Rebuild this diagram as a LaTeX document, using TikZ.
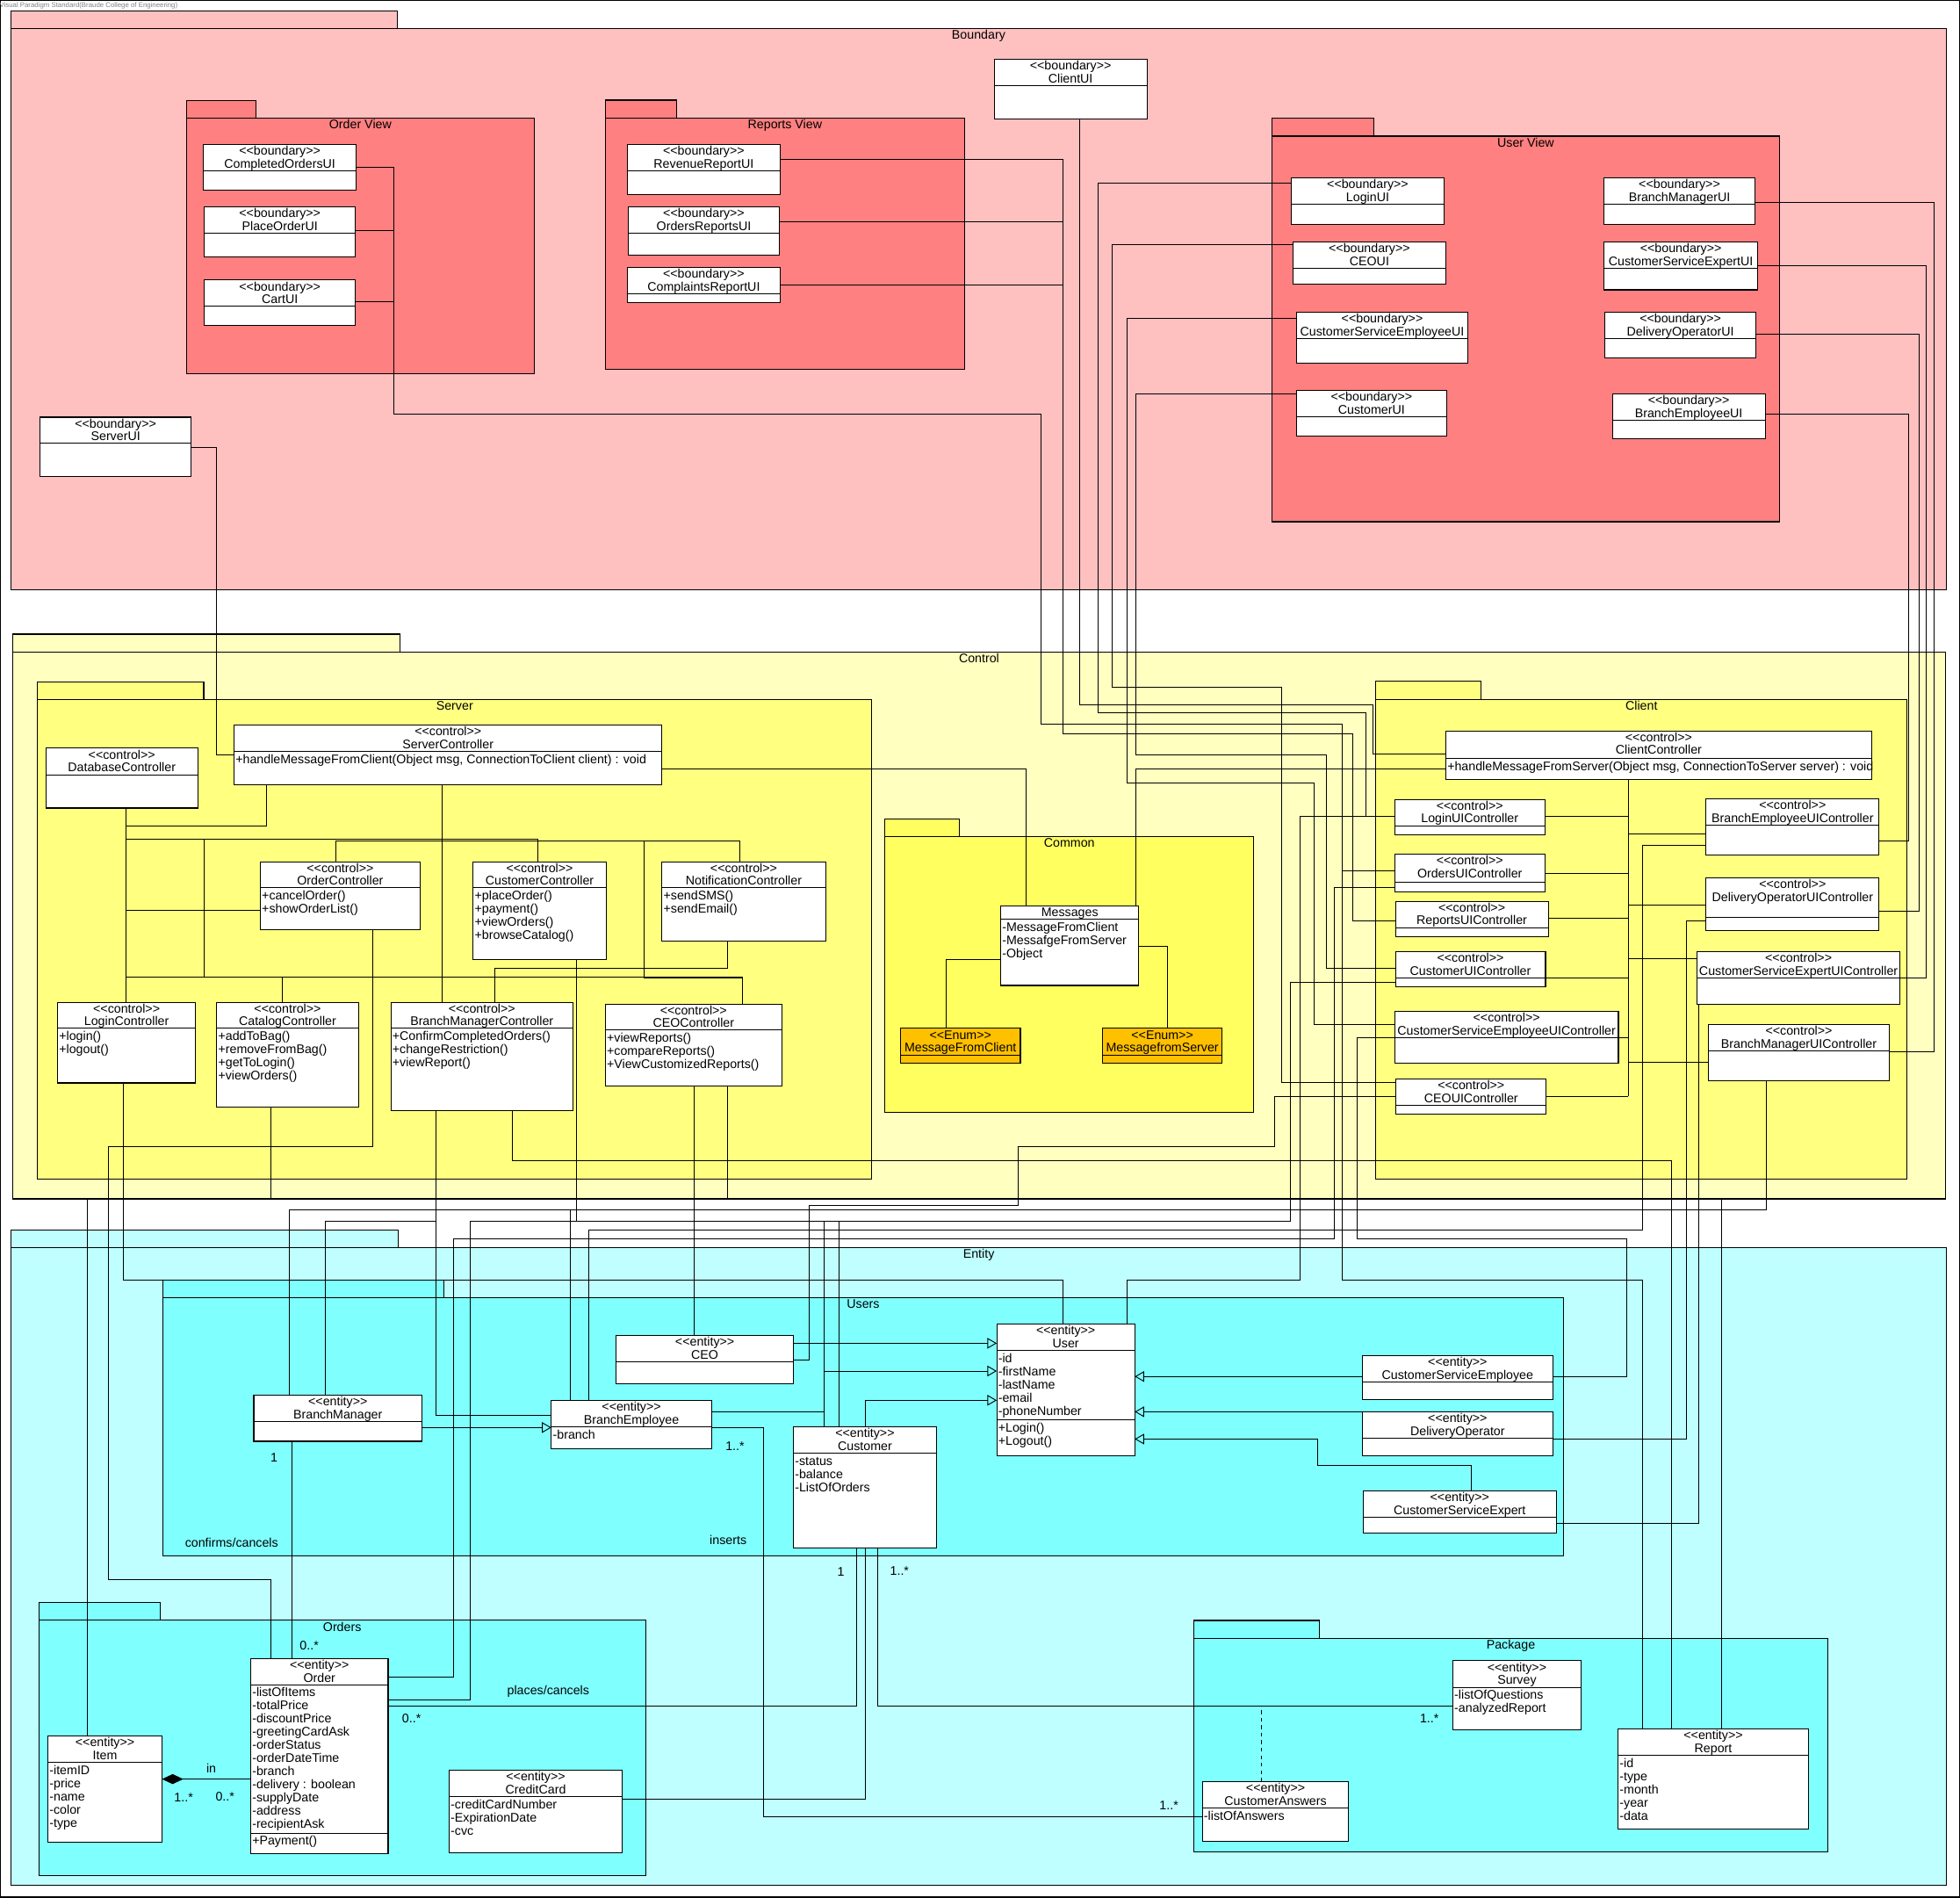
\documentclass[tikz,border=0pt]{standalone}
\usepackage{fontspec}
\setmainfont{Liberation Sans}
\usetikzlibrary{calc,arrows.meta}
\definecolor{bndOuter}{HTML}{FFC0C0}
\definecolor{bndInner}{HTML}{FF8080}
\definecolor{ctlOuter}{HTML}{FFFFC0}
\definecolor{ctlInner}{HTML}{FFFF80}
\definecolor{ctlCommon}{HTML}{FFFF60}
\definecolor{entOuter}{HTML}{C0FFFF}
\definecolor{entInner}{HTML}{80FFFF}
\definecolor{enumFill}{HTML}{FFC000}
\pgfdeclarelayer{back}
\pgfdeclarelayer{wires}
\pgfsetlayers{back,wires,main}
% guillemet-free stereotype brackets
\newcommand\umlst[1]{<\kern0pt<#1>\kern0pt>}
% package: title node, x1, tab top, tab right, body top, x2, bottom, fill, title
\newcommand\umlpkg[9]{%
  \fill[#8] (#2,#3) rectangle (#4,#5);
  \draw[pkgline] (#2,#3) rectangle (#4,#5);
  \fill[#8] (#2,#5) rectangle (#6,#7);
  \draw[pkgline] (#2,#5) rectangle (#6,#7);
  \node[lbl,anchor=base] (#1) at ({(#2+#6)/2},#5+8.7) {#9};}
% class box: [fill], name, x1, y1, x2, y2, divider y
\newcommand\umlcls[7][white]{%
  \node[clsbox,fill=#1,minimum width={#5-#3},minimum height={#6-#4}] (#2) at (#3,#4) {};
  \draw[boxline] (#3,#7) -- (#5,#7);}
% two-line header: stereotype and name
\newcommand\umlhd[3]{%
  \node[lbl,anchor=base] (#1-s) at ($(#1.north)+(0,8.6)$) {\umlst{#2}};
  \node[lbl,anchor=base] (#1-n) at ($(#1.north)+(0,18.8)$) {#3};}
% one-line header
\newcommand\umlone[2]{%
  \node[lbl,anchor=base] (#1-n) at ($(#1.north)+(0,8.6)$) {#2};}
% compartment rows: prefix, left x, first baseline, list
\newcommand\umlrows[4]{%
  \foreach \t [count=\i from 0] in {#4}
    \node[lbl,anchor=base west] (#1-\i) at ({#2+1},{#3+\i*10.55}) {\t};}
\begin{document}
\begin{tikzpicture}[x=1pt,y=-1pt,
  lbl/.style={font=\fontsize{10}{11}\selectfont,inner sep=0pt,text=black},
  pkgline/.style={draw=black,line width=0.75pt},
  clsbox/.style={draw=black,line width=0.75pt,inner sep=0pt,outer sep=0pt,anchor=north west},
  boxline/.style={draw=black,line width=0.75pt},
  wire/.style={draw=black,line width=0.65pt},
  gen/.style={wire,-{Triangle[open,length=7.5pt,width=8.5pt]}},
  comp/.style={wire,{Diamond[length=17pt,width=8pt]}-},
  assoc/.style={wire,dashed}]
\useasboundingbox (0,0) rectangle (1568,1518);

\begin{pgfonlayer}{back}
\fill[white] (0,0) rectangle (1568,1518);
\draw[line width=1pt] (0.5,0.5) rectangle (1567.5,1517.5);
\node[font=\fontsize{5.5}{6}\selectfont,text=gray,anchor=west,inner sep=0pt] (vpmark) at (-0.5,4.6) {Visual Paradigm Standard(Braude College of Engineering)};
\umlpkg{tBoundary}{9}{8.6}{318}{22.9}{1556.8}{471.4}{bndOuter}{Boundary}
\umlpkg{tOrderView}{149}{80.2}{204.6}{94.5}{427.6}{298.8}{bndInner}{Order View}
\umlpkg{tReportsView}{484.2}{80.1}{541.3}{94.4}{771.7}{295.1}{bndInner}{Reports View}
\umlpkg{tUserView}{1017.8}{94.8}{1099}{108.9}{1423.3}{417.3}{bndInner}{User View}
\umlpkg{tControl}{10}{507.2}{319.9}{521.6}{1556.5}{958.9}{ctlOuter}{Control}
\umlpkg{tServer}{30}{545.4}{163}{559.4}{697.5}{943}{ctlInner}{Server}
\umlpkg{tCommon}{708}{654.9}{767.5}{669.2}{1003}{889.4}{ctlCommon}{Common}
\umlpkg{tClient}{1100.6}{545.1}{1184.8}{559.4}{1525.8}{943}{ctlInner}{Client}
\umlpkg{tEntity}{9}{983.7}{318.5}{997.6}{1557}{1507.6}{entOuter}{Entity}
\umlpkg{tUsers}{130.6}{1023.8}{354.9}{1037.9}{1250.5}{1244.4}{entInner}{Users}
\umlpkg{tOrders}{31}{1282}{128}{1296}{516.5}{1499.9}{entInner}{Orders}
\umlpkg{tPackage}{954.8}{1296.1}{1055.7}{1310.2}{1462.5}{1481}{entInner}{Package}
\end{pgfonlayer}

% ---------- Boundary classes ----------
\umlcls{CompletedOrdersUI}{162.7}{115.7}{285}{152}{136.7}
\umlhd{CompletedOrdersUI}{boundary}{CompletedOrdersUI}
\umlcls{PlaceOrderUI}{163.4}{165.5}{284.4}{205.6}{186.5}
\umlhd{PlaceOrderUI}{boundary}{PlaceOrderUI}
\umlcls{CartUI}{163.4}{224}{284.4}{260.6}{245}
\umlhd{CartUI}{boundary}{CartUI}
\umlcls{ServerUI}{32}{333.7}{153}{381.4}{354.7}
\umlhd{ServerUI}{boundary}{ServerUI}
\umlcls{RevenueReportUI}{502}{115.5}{624}{155.5}{136.5}
\umlhd{RevenueReportUI}{boundary}{RevenueReportUI}
\umlcls{OrdersReportsUI}{502.7}{165.3}{623.4}{204}{186.4}
\umlhd{OrdersReportsUI}{boundary}{OrdersReportsUI}
\umlcls{ComplaintsReportUI}{502}{213.8}{624}{241.7}{234.9}
\umlhd{ComplaintsReportUI}{boundary}{ComplaintsReportUI}
\umlcls{ClientUI}{795.3}{47.3}{917.6}{95.1}{68.4}
\umlhd{ClientUI}{boundary}{ClientUI}
\umlcls{LoginUI}{1033}{142.1}{1155.3}{179.8}{163.2}
\umlhd{LoginUI}{boundary}{LoginUI}
\umlcls{CEOUI}{1034.6}{193.4}{1156.4}{227.2}{214.5}
\umlhd{CEOUI}{boundary}{CEOUI}
\umlcls{CSEmpUI}{1037.2}{249.6}{1174.3}{290.4}{270.7}
\umlhd{CSEmpUI}{boundary}{CustomerServiceEmployeeUI}
\umlcls{CustomerUI}{1037.2}{312.2}{1157.2}{348.5}{333.2}
\umlhd{CustomerUI}{boundary}{CustomerUI}
\umlcls{BranchManagerUI}{1283.2}{142.1}{1403.9}{179.8}{163.2}
\umlhd{BranchManagerUI}{boundary}{BranchManagerUI}
\umlcls{CSExpUI}{1283.2}{193.4}{1406.2}{231.8}{214.5}
\umlhd{CSExpUI}{boundary}{CustomerServiceExpertUI}
\umlcls{DeliveryOperatorUI}{1283.9}{249.6}{1404.7}{286.2}{270.7}
\umlhd{DeliveryOperatorUI}{boundary}{DeliveryOperatorUI}
\umlcls{BranchEmployeeUI}{1289.9}{315}{1412.1}{350.8}{336}
\umlhd{BranchEmployeeUI}{boundary}{BranchEmployeeUI}

% ---------- Control: server ----------
\umlcls{ServerController}{187.3}{579.8}{529.6}{627.6}{601}
\umlhd{ServerController}{control}{ServerController}
\umlrows{rSC}{187.3}{610.6}{{+handleMessageFromClient(Object msg, ConnectionToClient client) : void}}
\umlcls{DatabaseController}{36.7}{598.4}{158.2}{646.3}{619.9}
\umlhd{DatabaseController}{control}{DatabaseController}
\umlcls{OrderController}{208.3}{689.3}{336}{743.8}{710.2}
\umlhd{OrderController}{control}{OrderController}
\umlrows{rOC}{208.3}{719.8}{+cancelOrder(),+showOrderList()}
\umlcls{CustomerController}{378.6}{689.3}{484.8}{767.3}{710.2}
\umlhd{CustomerController}{control}{CustomerController}
\umlrows{rCC}{378.6}{719.8}{+placeOrder(),+payment(),+viewOrders(),+browseCatalog()}
\umlcls{NotificationController}{529.6}{689.3}{660.4}{753}{710.2}
\umlhd{NotificationController}{control}{NotificationController}
\umlrows{rNC}{529.6}{719.8}{+sendSMS(),+sendEmail()}
\umlcls{LoginController}{46.1}{801.7}{156.4}{866.2}{822.6}
\umlhd{LoginController}{control}{LoginController}
\umlrows{rLC}{46.1}{832.2}{+login(),+logout()}
\umlcls{CatalogController}{173.4}{801.7}{286.7}{885.7}{822.6}
\umlhd{CatalogController}{control}{CatalogController}
\umlrows{rCat}{173.4}{832.2}{+addToBag(),+removeFromBag(),+getToLogin(),+viewOrders()}
\umlcls{BranchManagerController}{312.7}{801.7}{458.3}{888}{822.6}
\umlhd{BranchManagerController}{control}{BranchManagerController}
\umlrows{rBMC}{312.7}{832.2}{+ConfirmCompletedOrders(),+changeRestriction(),+viewReport()}
\umlcls{CEOController}{484.3}{803.1}{625.4}{868.5}{824}
\umlhd{CEOController}{control}{CEOController}
\umlrows{rCEOC}{484.3}{833.6}{+viewReports(),+compareReports(),+ViewCustomizedReports()}

% ---------- Control: common ----------
\umlcls{Messages}{800.6}{724.3}{911}{788.2}{735.2}
\umlone{Messages}{Messages}
\umlrows{rMsg}{800.6}{744.8}{-MessageFromClient,-MessafgeFromServer,-Object}
\umlcls[enumFill]{MessageFromClient}{720.4}{822.6}{816.3}{850.7}{844.1}
\umlhd{MessageFromClient}{Enum}{MessageFromClient}
\umlcls[enumFill]{MessagefromServer}{881.9}{822.6}{977.8}{850.7}{844.1}
\umlhd{MessagefromServer}{Enum}{MessagefromServer}

% ---------- Control: client ----------
\umlcls{ClientController}{1156.7}{584.6}{1497.2}{623.3}{606.7}
\umlhd{ClientController}{control}{ClientController}
\umlrows{rClC}{1156.7}{616.3}{{+handleMessageFromServer(Object msg, ConnectionToServer server) : void}}
\umlcls{LoginUIController}{1115.8}{639.4}{1235.8}{667.5}{660.6}
\umlhd{LoginUIController}{control}{LoginUIController}
\umlcls{OrdersUIController}{1115.8}{683}{1235.8}{713.7}{705.6}
\umlhd{OrdersUIController}{control}{OrdersUIController}
\umlcls{ReportsUIController}{1116.3}{720.8}{1238.6}{748.9}{742.3}
\umlhd{ReportsUIController}{control}{ReportsUIController}
\umlcls{CustomerUIController}{1116.3}{761}{1236.4}{789.1}{782.5}
\umlhd{CustomerUIController}{control}{CustomerUIController}
\umlcls{CSEUIC}{1115.8}{808.8}{1294.7}{850.7}{829.8}
\umlhd{CSEUIC}{control}{CustomerServiceEmployeeUIController}
\umlcls{CEOUIController}{1116.9}{863}{1236.9}{891}{884.2}
\umlhd{CEOUIController}{control}{CEOUIController}
\umlcls{BEUIC}{1364.8}{638.8}{1503.3}{683.6}{660}
\umlhd{BEUIC}{control}{BranchEmployeeUIController}
\umlcls{DOUIC}{1364.8}{702.2}{1503.3}{744.3}{733.7}
\umlhd{DOUIC}{control}{DeliveryOperatorUIController}
\umlcls{CSXUIC}{1357.5}{761}{1520.1}{803.1}{782.5}
\umlhd{CSXUIC}{control}{CustomerServiceExpertUIController}
\umlcls{BMUIC}{1366.5}{819.4}{1511.7}{864.7}{840.4}
\umlhd{BMUIC}{control}{BranchManagerUIController}

% ---------- Entity: users ----------
\umlcls{CEO}{492.9}{1068}{634.8}{1106.7}{1089.2}
\umlhd{CEO}{entity}{CEO}
\umlcls{BranchManager}{203}{1115.8}{337.6}{1152.8}{1137}
\umlhd{BranchManager}{entity}{BranchManager}
\umlcls{BranchEmployee}{441.1}{1120}{569.2}{1158.7}{1141.1}
\umlhd{BranchEmployee}{entity}{BranchEmployee}
\umlrows{rBE}{441.1}{1150.7}{-branch}
\umlcls{Customer}{634.8}{1141.1}{749.1}{1238.1}{1162.2}
\umlhd{Customer}{entity}{Customer}
\umlrows{rCu}{634.8}{1171.8}{-status,-balance,-ListOfOrders}
\umlcls{User}{797.4}{1059}{907.8}{1164.3}{1080}
\draw[boxline] (User.west |- 0,1135.7) -- (User.east |- 0,1135.7);
\umlhd{User}{entity}{User}
\umlrows{rUa}{797.4}{1089.6}{-id,-firstName,-lastName,-email,-phoneNumber}
\umlrows{rUo}{797.4}{1145.3}{+Login(),+Logout()}
\umlcls{CSEmployee}{1089.9}{1084.2}{1242.2}{1119.4}{1105.3}
\umlhd{CSEmployee}{entity}{CustomerServiceEmployee}
\umlcls{DeliveryOperator}{1089.9}{1129.2}{1242.2}{1164.3}{1150.3}
\umlhd{DeliveryOperator}{entity}{DeliveryOperator}
\umlcls{CSExpert}{1090.5}{1192.4}{1245}{1226.4}{1213.5}
\umlhd{CSExpert}{entity}{CustomerServiceExpert}

% ---------- Entity: orders and package ----------
\umlcls{Order}{200.6}{1326.6}{310.5}{1482.3}{1347.6}
\draw[boxline] (Order.west |- 0,1466.4) -- (Order.east |- 0,1466.4);
\umlhd{Order}{entity}{Order}
\umlrows{rOa}{200.6}{1357}{-listOfItems,-totalPrice,-discountPrice,-greetingCardAsk,-orderStatus,-orderDateTime,-branch,-delivery : boolean,-supplyDate,-address,-recipientAsk}
\umlrows{rOo}{200.6}{1475.6}{+Payment()}
\umlcls{Item}{38.4}{1388.4}{129.6}{1473.2}{1409.5}
\umlhd{Item}{entity}{Item}
\umlrows{rIt}{38.4}{1419.1}{-itemID,-price,-name,-color,-type}
\umlcls{CreditCard}{359.3}{1415.8}{497.8}{1481.8}{1436.9}
\umlhd{CreditCard}{entity}{CreditCard}
\umlrows{rCr}{359.3}{1446.5}{-creditCardNumber,-ExpirationDate,-cvc}
\umlcls{Survey}{1162.3}{1328.4}{1264.8}{1383.5}{1349.7}
\umlhd{Survey}{entity}{Survey}
\umlrows{rSu}{1162.3}{1359.3}{-listOfQuestions,-analyzedReport}
\umlcls{CustomerAnswers}{961.9}{1425}{1079}{1472.5}{1446}
\umlhd{CustomerAnswers}{entity}{CustomerAnswers}
\umlrows{rCA}{961.9}{1455.6}{-listOfAnswers}
\umlcls{Report}{1294.5}{1382.8}{1446.7}{1462.9}{1403.9}
\umlhd{Report}{entity}{Report}
\umlrows{rRe}{1294.5}{1413.5}{-id,-type,-month,-year,-data}

% ---------- association labels ----------
\node[lbl] (mBM) at (219.3,1166.2) {1};
\node[lbl] (mOtop) at (247.4,1316) {0..*};
\node[lbl] (lConfirms) at (185.3,1234.1) {confirms/cancels};
\node[lbl] (mBE) at (588,1156.4) {1..*};
\node[lbl] (lInserts) at (582.5,1231.8) {inserts};
\node[lbl] (mCu1) at (672.7,1257.5) {1};
\node[lbl] (mCu2) at (719.6,1256.6) {1..*};
\node[lbl] (lPlaces) at (438.6,1353) {places/cancels};
\node[lbl] (mOr) at (329.2,1374.6) {0..*};
\node[lbl] (lIn) at (169,1414.4) {in};
\node[lbl] (mIt) at (146.9,1437.8) {1..*};
\node[lbl] (mOl) at (180,1437.3) {0..*};
\node[lbl] (mSu) at (1143.5,1374.6) {1..*};
\node[lbl] (mCA) at (935.1,1444.4) {1..*};

\begin{pgfonlayer}{wires}
% boundary to control
\draw[wire] (CompletedOrdersUI.east |- 0,133.8) -| (315,331) -| (833,578.9) -| (1073.5,696.7) -- (OrdersUIController.west |- 0,696.7);
\draw[wire] (PlaceOrderUI.east |- 0,184.6) -- (315,184.6);
\draw[wire] (CartUI.east |- 0,241) -- (315,241);
\draw[wire] (RevenueReportUI.east |- 0,127.6) -| (850,586.8) -| (1082,736.3) -- (ReportsUIController.west |- 0,736.3);
\draw[wire] (OrdersReportsUI.east |- 0,177.3) -- (850,177.3);
\draw[wire] (ComplaintsReportUI.east |- 0,227.9) -- (850,227.9);
\draw[wire] (ClientUI.south -| 863.6,0) |- (1098,563.7) |- (ClientController.west |- 0,603);
\draw[wire] (LoginUI.west |- 0,146.4) -| (878.4,570) -| (1092.5,652.6) -- (LoginUIController.west |- 0,652.6);
\draw[wire] (CEOUI.west |- 0,195.5) -| (889.6,549.6) -| (1025,866) -- (CEOUIController.west |- 0,866);
\draw[wire] (CSEmpUI.west |- 0,254.6) -| (901.6,626.5) -| (1051,819.7) -- (CSEUIC.west |- 0,819.7);
\draw[wire] (CustomerUI.west |- 0,315) -| (908.6,604) -| (1061,774.4) -- (CustomerUIController.west |- 0,774.4);
\draw[wire] (BranchManagerUI.east |- 0,161.6) -| (1547,841.2) -- (BMUIC.east |- 0,841.2);
\draw[wire] (CSExpUI.east |- 0,212.4) -| (1540.7,782.5) -- (CSXUIC.east |- 0,782.5);
\draw[wire] (DeliveryOperatorUI.east |- 0,267) -| (1535,728.6) -- (DOUIC.east |- 0,728.6);
\draw[wire] (BranchEmployeeUI.east |- 0,331) -| (1527,672.7) -- (BEUIC.east |- 0,672.7);
\draw[wire] (ServerUI.east |- 0,357.7) -| (173,604) -- (ServerController.west |- 0,604);
% server package
\draw[wire] (DatabaseController.south -| 101,0) -- (LoginController.north -| 101,0);
\draw[wire] (101,660.6) -| (ServerController.south -| 213,0);
\draw[wire] (101,671.2) -| (CustomerController.north -| 430,0);
\draw[wire] (163,671.2) -- (163,781.6);
\draw[wire] (OrderController.north -| 269,0) |- (592,672.7) -- (NotificationController.north -| 592,0);
\draw[wire] (ServerController.south -| 354,0) -- (BranchManagerController.north -| 354,0);
\draw[wire] (515,672.7) |- (594,782.5) -- (CEOController.north -| 594,0);
\draw[wire] (101,728) -- (OrderController.west |- 0,728);
\draw[wire] (101,781.6) -- (594,781.6);
\draw[wire] (226,781.6) -- (CatalogController.north -| 226,0);
\draw[wire] (NotificationController.south -| 582,0) |- (396,774.4) -- (BranchManagerController.north -| 396,0);
\draw[wire] (ServerController.east |- 0,614.7) -| (Messages.north -| 820.6,0);
% common package
\draw[wire] (Messages.west |- 0,767.3) -| (MessageFromClient.north -| 756.8,0);
\draw[wire] (Messages.east |- 0,757) -| (MessagefromServer.north -| 934,0);
\draw[wire] (ClientController.west |- 0,615) -| (Messages.north -| 908.8,0);
% client package
\draw[wire] (ClientController.south -| 1302.5,0) -- (1302.5,877);
\draw[wire] (LoginUIController.east |- 0,652.6) -- (1302.5,652.6);
\draw[wire] (OrdersUIController.east |- 0,698.5) -- (1302.5,698.5);
\draw[wire] (ReportsUIController.east |- 0,734.3) -- (1302.5,734.3);
\draw[wire] (CustomerUIController.east |- 0,782.5) -- (1302.5,782.5);
\draw[wire] (CSEUIC.east |- 0,829.8) -- (1302.5,829.8);
\draw[wire] (CEOUIController.east |- 0,877) -- (1302.5,877);
\draw[wire] (BEUIC.west |- 0,667) -- (1302.5,667);
\draw[wire] (DOUIC.west |- 0,723.7) -- (1302.5,723.7);
\draw[wire] (CSXUIC.west |- 0,766.7) -- (1302.5,766.7);
\draw[wire] (BMUIC.west |- 0,849.8) -- (1302.5,849.8);
% control to entity
\draw[wire] (OrderController.south -| 298,0) |- (86.5,917.2) |- (217,1263.4) -- (Order.north -| 217,0);
\draw[wire] (CatalogController.south -| 217,0) |- (70,958.5) -- (Item.north -| 70,0);
\draw[wire] (LoginController.south -| 99,0) |- (850.4,1023.8) -- (User.north -| 850.4,0);
\draw[wire] (BranchManagerController.south -| 349,0) |- (260.2,977) -- (BranchManager.north -| 260.2,0);
\draw[wire] (349,977) |- (BranchEmployee.west |- 0,1132);
\draw[wire] (BranchManagerController.south -| 410,0) |- (1337,928) -- (Report.north -| 1337,0);
\draw[wire] (CEOController.south -| 555,0) -- (CEO.north -| 555,0);
\draw[wire] (CEOController.south -| 582,0) |- (1377,958.5) -- (Report.north -| 1377,0);
\draw[wire] (CustomerController.south -| 461.5,0) |- (659,977) -- (Customer.north -| 659,0);
\draw[wire] (BMUIC.south -| 1413,0) |- (231.6,967.6) -- (BranchManager.north -| 231.6,0);
\draw[wire] (456,967.6) -- (BranchEmployee.north -| 456,0);
\draw[wire] (BranchEmployee.north -| 470.7,0) |- (1314,984) |- (BEUIC.west |- 0,676.4);
\draw[wire] (Order.east |- 0,1341.7) -| (363,991) -| (1067.5,710) -- (OrdersUIController.west |- 0,710);
\draw[wire] (Order.east |- 0,1359.5) -| (376,977) -| (1032.5,786) -- (CustomerUIController.west |- 0,786);
\draw[wire] (Customer.north -| 671,0) -- (671,977);
\draw[wire] (CEO.east |- 0,1087.7) -| (647,964) -| (814.6,917.2) -| (1019.3,877) -- (CEOUIController.west |- 0,877);
\draw[wire] (LoginUIController.west |- 0,653) -| (1040,1023.8) -| (User.north -| 901.5,0);
\draw[wire] (OrdersUIController.west |- 0,696.7) -| (1073.5,1023.8) -| (Report.north -| 1314,0);
\draw[wire] (CSEmployee.east |- 0,1101) -| (1301.3,991) -| (1086,829.8) -- (CSEUIC.west |- 0,829.8);
\draw[wire] (DeliveryOperator.east |- 0,1151) -| (1349,736.6) -- (DOUIC.west |- 0,736.6);
\draw[wire] (CSExpert.east |- 0,1218.2) -| (CSXUIC.south -| 1359.2,0);
% generalizations
\draw[gen] (CEO.east |- 0,1074.4) -- (User.west |- 0,1074.4);
\draw[gen] (BranchEmployee.east |- 0,1129) -| (659,1096.6) -- (User.west |- 0,1096.6);
\draw[gen] (Customer.north -| 692.5,0) |- (User.west |- 0,1120);
\draw[gen] (CSEmployee.west |- 0,1101) -- (User.east |- 0,1101);
\draw[gen] (DeliveryOperator.north west) -- (User.east |- 0,1129.2);
\draw[gen] (CSExpert.north -| 1177,0) |- (1054,1172) |- (User.east |- 0,1151);
\draw[gen] (BranchManager.east |- 0,1141.8) -- (BranchEmployee.west |- 0,1141.8);
% associations
\draw[wire] (BranchManager.south -| 233.6,0) -- (Order.north -| 233.6,0);
\draw[comp] (Item.east |- 0,1423) -- (Order.west |- 0,1423);
\draw[wire] (Order.east |- 0,1364.7) -| (Customer.south -| 685.5,0);
\draw[wire] (CreditCard.east |- 0,1439) -| (Customer.south -| 692.5,0);
\draw[wire] (Customer.south -| 702.3,0) |- (Survey.west |- 0,1364.7);
\draw[wire] (BranchEmployee.east |- 0,1141.8) -| (611,1453) -- (CustomerAnswers.west |- 0,1453);
\draw[assoc] (CustomerAnswers.north -| 1009,0) -- (1009,1365);
\end{pgfonlayer}
\end{tikzpicture}
\end{document}
